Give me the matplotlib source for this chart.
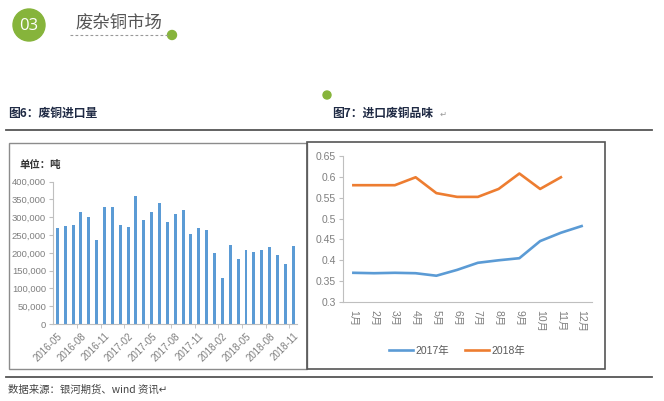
import matplotlib
matplotlib.use("Agg")
import matplotlib.pyplot as plt
from matplotlib.patches import Circle, Rectangle
from matplotlib.lines import Line2D

plt.rcParams['font.family'] = ['Liberation Sans', 'Noto Sans CJK SC', 'DejaVu Sans']

W, H = 664, 401

# 图6 废铜进口量（吨）
months = ["2016-05", "2016-06", "2016-07", "2016-08", "2016-09", "2016-10", "2016-11", "2016-12",
          "2017-01", "2017-02", "2017-03", "2017-04", "2017-05", "2017-06", "2017-07", "2017-08",
          "2017-09", "2017-10", "2017-11", "2017-12", "2018-01", "2018-02", "2018-03", "2018-04",
          "2018-05", "2018-06", "2018-07", "2018-08", "2018-09", "2018-10", "2018-11"]
imports = [271000, 275000, 278000, 316000, 301000, 236000, 328000, 328000, 277000, 273000,
           359000, 291000, 314000, 340000, 287000, 310000, 321000, 252000, 271000, 263000,
           199000, 130000, 221000, 183000, 209000, 203000, 209000, 216000, 195000, 169000, 220000]

# 图7 进口废铜品味
month_labels = ["1月", "2月", "3月", "4月", "5月", "6月", "7月", "8月", "9月", "10月", "11月", "12月"]
grade_2017 = [0.370, 0.369, 0.370, 0.369, 0.363, 0.377, 0.394, 0.400, 0.405, 0.446, 0.466, 0.482]
grade_2018 = [0.580, 0.580, 0.580, 0.599, 0.561, 0.552, 0.552, 0.571, 0.608, 0.571, 0.599]

BLUE = "#5B9BD5"
ORANGE = "#ED7D31"
GREEN = "#86B43B"
TICK = "#7F7F7F"


def fx(x):
    return x / W


def fy(y):
    return 1 - y / H


def axes_px(left, top, right, bottom):
    return fig.add_axes([fx(left), fy(bottom), (right - left) / W, (bottom - top) / H])


def dot(x, y, r):
    # circle in pixel units (dpi 100 -> inches)
    fig.patches.append(Circle((x / 100, (H - y) / 100), r / 100,
                              transform=fig.dpi_scale_trans, color=GREEN))


fig = plt.figure(figsize=(W / 100, H / 100), dpi=100)

# ---- header ----
dot(29, 25, 16)
fig.text(fx(29), fy(26), "03", color="white", fontsize=12, ha="center", va="center",
         family=["Open Sans"])
fig.text(fx(75), fy(22), "废杂铜市场", color="#555555", fontsize=12.5, va="center",
         family=["Noto Sans CJK SC"])
fig.add_artist(Line2D([fx(70), fx(168)], [fy(35), fy(35)], transform=fig.transFigure,
                      color="#999999", lw=0.8, ls=(0, (2.5, 2))))
dot(172, 35, 4.5)
dot(327, 95, 4)

fig.text(fx(8), fy(113), "图6：废铜进口量", color="#1F2A44", fontsize=8.5, fontweight="bold",
         va="center", family=["Noto Sans CJK SC"])
fig.text(fx(332), fy(113), "图7：进口废铜品味", color="#1F2A44", fontsize=8.5, fontweight="bold",
         va="center", family=["Noto Sans CJK SC"])
fig.text(fx(440), fy(114), "↵", color="#999999", fontsize=6, va="center", family=["DejaVu Sans"])

for yy in (130, 377):
    fig.add_artist(Line2D([fx(6), fx(652)], [fy(yy), fy(yy)], transform=fig.transFigure,
                          color="#555555", lw=1.3))

# boxes
fig.patches.append(Rectangle((fx(9), fy(369)), (307 - 9) / W, (369 - 143) / H,
                             transform=fig.transFigure, fill=False, ec="#8C8C8C", lw=1))
fig.patches.append(Rectangle((fx(307), fy(369)), (605 - 307) / W, (369 - 142) / H,
                             transform=fig.transFigure, fill=False, ec="#555555", lw=1.2))

# ---- left chart: imports ----
ax1 = axes_px(53, 181.7, 296.7, 324)
x = list(range(len(months)))
ax1.bar(x, imports, width=0.38, color=BLUE)
ax1.set_xlim(-0.55, 30.45)
ax1.set_ylim(0, 400000)
ax1.set_yticks(range(0, 400001, 50000))
ax1.set_yticklabels(["0"] + [f"{v:,}" for v in range(50000, 400001, 50000)])
ax1.set_xticks(x[::3])
ax1.set_xticklabels(months[::3], rotation=45, ha="right", rotation_mode="anchor")
ax1.set_xticks([i + 2.5 for i in range(0, 30, 3)], minor=True)
ax1.tick_params(axis="x", which="major", length=0, pad=5, labelsize=7, colors=TICK)
ax1.tick_params(axis="x", which="minor", length=3, color="#BFBFBF")
ax1.tick_params(axis="y", length=3, color="#BFBFBF", labelsize=6.8, colors=TICK, pad=2)
for s in ("top", "right"):
    ax1.spines[s].set_visible(False)
for s in ("left", "bottom"):
    ax1.spines[s].set_color("#BFBFBF")
    ax1.spines[s].set_linewidth(0.8)
fig.text(fx(20), fy(165), "单位：吨", color="#333333", fontsize=7.5, fontweight="bold",
         va="center", family=["Noto Sans CJK SC"])

# ---- right chart: grade ----
ax2 = axes_px(343, 156, 592, 302)
ax2.plot(range(len(grade_2017)), grade_2017, color=BLUE, lw=1.9, label="2017年")
ax2.plot(range(len(grade_2018)), grade_2018, color=ORANGE, lw=1.9, label="2018年")
ax2.set_xlim(-0.5, 11.5)
ax2.set_ylim(0.3, 0.65)
ax2.set_yticks([0.3, 0.35, 0.4, 0.45, 0.5, 0.55, 0.6, 0.65])
ax2.set_yticklabels(["0.3", "0.35", "0.4", "0.45", "0.5", "0.55", "0.6", "0.65"])
ax2.set_xticks(range(12))
ax2.set_xticklabels(month_labels, rotation=270, ha="center", va="top")
ax2.tick_params(axis="x", length=0, pad=6, labelsize=7.5, colors=TICK)
ax2.tick_params(axis="y", length=3, color="#BFBFBF", labelsize=7.5, colors=TICK, pad=2)
for s in ("top", "right"):
    ax2.spines[s].set_visible(False)
for s in ("left", "bottom"):
    ax2.spines[s].set_color("#BFBFBF")
    ax2.spines[s].set_linewidth(0.8)
leg = ax2.legend(loc="center", bbox_to_anchor=(fx(457), fy(351)),
                 bbox_transform=fig.transFigure, ncol=2, frameon=False, fontsize=7.5,
                 handlelength=2.3, handletextpad=0.2, columnspacing=1.6)
for t in leg.get_texts():
    t.set_color("#595959")

# ---- footer ----
fig.text(fx(8), fy(390), "数据来源：银河期货、wind 资讯↵", color="#444444", fontsize=7.5,
         va="center", family=["Noto Sans CJK SC", "DejaVu Sans"])

fig.savefig("out.png", dpi=100)
